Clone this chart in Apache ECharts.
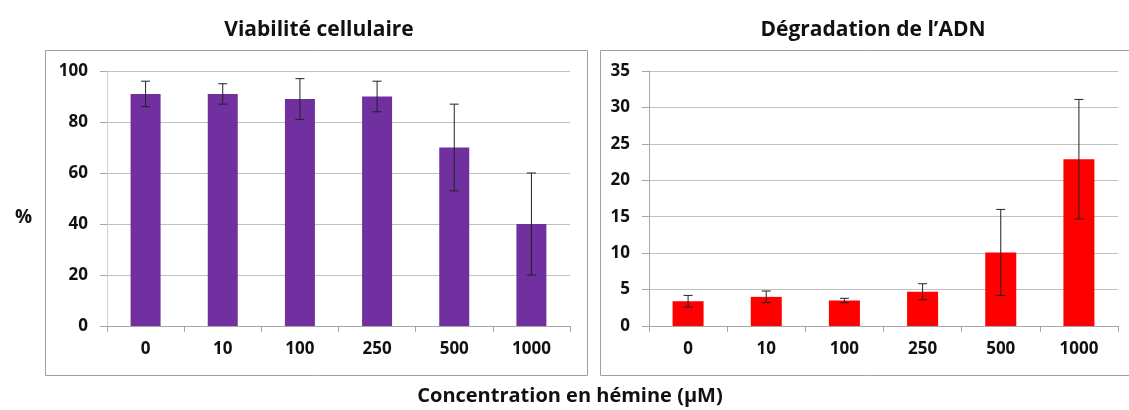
<!DOCTYPE html>
<html>
<head>
<meta charset="utf-8">
<script src="https://cdn.jsdelivr.net/npm/echarts@6/dist/echarts.min.js"></script>
<style>
  html, body { margin: 0; padding: 0; background: #ffffff; }
  #chart { width: 1129px; height: 410px; }
</style>
</head>
<body>
<div id="chart"></div>
<script>
// concentrations (µM)
const categories = ['0', '10', '100', '250', '500', '1000']

// cell viability (%) with error bar ends
const viability = [91, 91, 89, 90, 70, 40]
const viabilityLow = [86, 87, 81, 84, 53, 20]
const viabilityHigh = [96, 95, 97, 96, 87, 60]

// DNA degradation (%) with error bar ends
const degradation = [3.4, 4.0, 3.5, 4.7, 10.1, 22.9]
const degradationLow = [2.6, 3.2, 3.2, 3.6, 4.2, 14.7]
const degradationHigh = [4.2, 4.8, 3.8, 5.8, 16.0, 31.1]

const FONT = 'Open Sans'
const TEXT = '#111111'

function errorSeries (gridIdx, low, high) {
  return {
    type: 'custom',
    xAxisIndex: gridIdx,
    yAxisIndex: gridIdx,
    z: 5,
    data: categories.map((c, i) => [i, low[i], high[i]]),
    renderItem: function (params, api) {
      const lo = api.coord([api.value(0), api.value(1)])
      const hi = api.coord([api.value(0), api.value(2)])
      const cap = 4.5
      const style = { stroke: '#222222', lineWidth: 1 }
      return {
        type: 'group',
        children: [
          { type: 'line', shape: { x1: lo[0], y1: lo[1], x2: hi[0], y2: hi[1] }, style: style },
          { type: 'line', shape: { x1: hi[0] - cap, y1: hi[1], x2: hi[0] + cap, y2: hi[1] }, style: style },
          { type: 'line', shape: { x1: lo[0] - cap, y1: lo[1], x2: lo[0] + cap, y2: lo[1] }, style: style }
        ]
      }
    }
  }
}

function xAxis (gridIdx) {
  return {
    type: 'category',
    gridIndex: gridIdx,
    data: categories,
    axisLine: { lineStyle: { color: '#a6a6a6' } },
    axisTick: { show: true, length: 6, lineStyle: { color: '#a6a6a6' } },
    axisLabel: { color: TEXT, fontFamily: FONT, fontWeight: 'bold', fontSize: 17, margin: 15 }
  }
}

function yAxis (gridIdx, max, interval) {
  return {
    type: 'value',
    gridIndex: gridIdx,
    min: 0,
    max: max,
    interval: interval,
    axisLine: { show: true, lineStyle: { color: gridIdx === 0 ? '#d0d0d0' : '#a6a6a6' } },
    axisTick: { show: true, length: 7, lineStyle: { color: '#a6a6a6' } },
    splitLine: { lineStyle: { color: '#c0c0c0' } },
    axisLabel: { color: TEXT, fontFamily: FONT, fontWeight: 'bold', fontSize: 17, margin: 19 }
  }
}

const myChart = echarts.init(document.getElementById('chart'), null, { renderer: 'canvas' })

const option = {
  animation: false,
  backgroundColor: '#ffffff',
  title: [
    { text: 'Viabilité cellulaire', left: 314, top: 15, textAlign: 'center',
      textStyle: { fontFamily: FONT, fontWeight: 'bold', fontSize: 21, color: TEXT } },
    { text: 'Dégradation de l’ADN', left: 868, top: 15, textAlign: 'center',
      textStyle: { fontFamily: FONT, fontWeight: 'bold', fontSize: 21, color: TEXT } },
    { text: 'Concentration en hémine (µM)', left: 565, top: 381, textAlign: 'center',
      textStyle: { fontFamily: FONT, fontWeight: 'bold', fontSize: 20, color: TEXT } },
    { text: '%', left: 10, top: 203,
      textStyle: { fontFamily: FONT, fontWeight: 'bold', fontSize: 19, color: TEXT } }
  ],
  graphic: [
    { type: 'rect', shape: { x: 45.5, y: 50.5, width: 542, height: 325 },
      style: { fill: 'none', stroke: '#a0a0a0', lineWidth: 1 }, z: -1 },
    { type: 'rect', shape: { x: 600.5, y: 50.5, width: 540, height: 325 },
      style: { fill: 'none', stroke: '#a0a0a0', lineWidth: 1 }, z: -1 }
  ],
  grid: [
    { left: 107, right: 559, top: 71, bottom: 84 },
    { left: 649, right: 11, top: 71, bottom: 84 }
  ],
  xAxis: [xAxis(0), xAxis(1)],
  yAxis: [yAxis(0, 100, 20), yAxis(1, 35, 5)],
  series: [
    {
      type: 'bar',
      xAxisIndex: 0,
      yAxisIndex: 0,
      data: viability,
      barWidth: 30,
      itemStyle: { color: '#7030a0' }
    },
    errorSeries(0, viabilityLow, viabilityHigh),
    {
      type: 'bar',
      xAxisIndex: 1,
      yAxisIndex: 1,
      data: degradation,
      barWidth: 31,
      itemStyle: { color: '#ff0000' }
    },
    errorSeries(1, degradationLow, degradationHigh)
  ]
}

myChart.setOption(option)
</script>
</body>
</html>
